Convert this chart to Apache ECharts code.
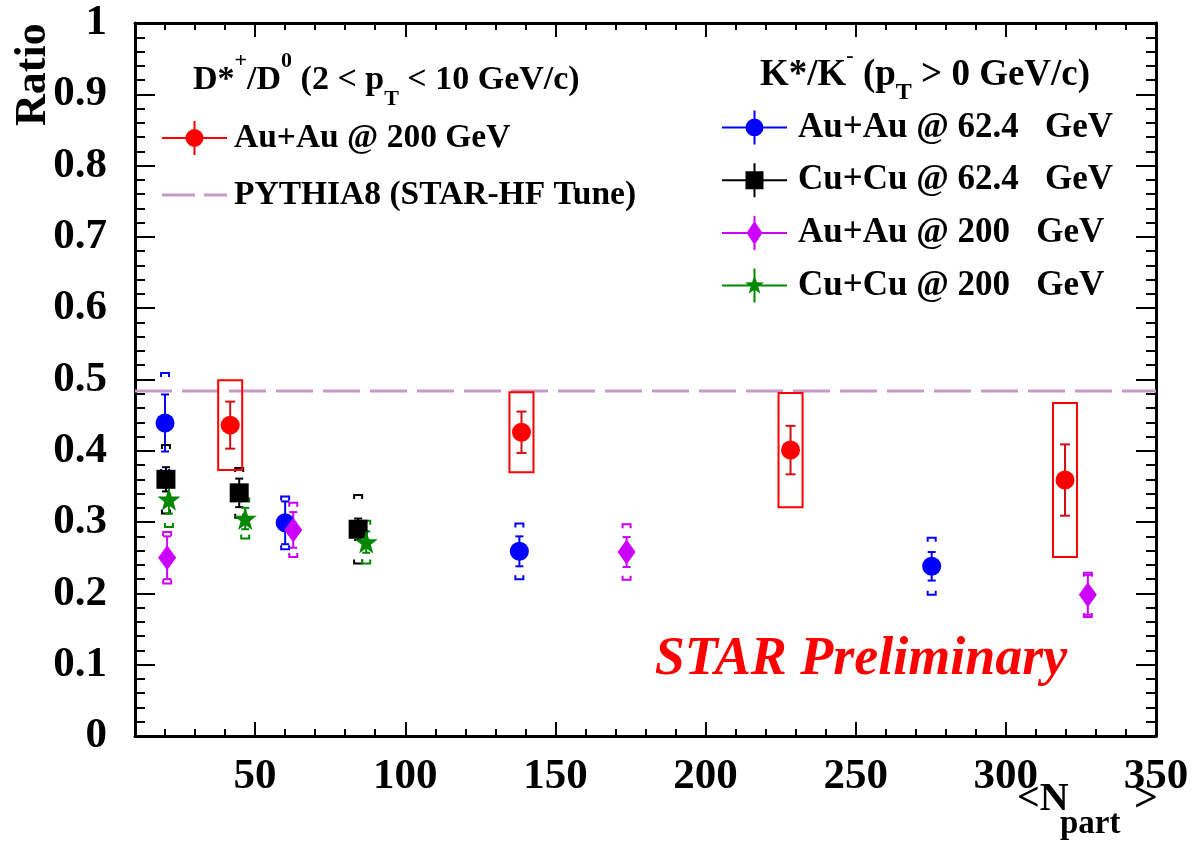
<!DOCTYPE html>
<html>
<head>
<meta charset="utf-8">
<script src="https://cdn.jsdelivr.net/npm/echarts@6/dist/echarts.min.js"></script>
<style>
  html, body { margin: 0; padding: 0; background: #fff; }
  #chart { width: 1192px; height: 842px; }
</style>
</head>
<body>
<div id="chart"></div>
<script>
// ---- data ----
var X_MIN = 10, X_MAX = 350;
var xMajorTicks = [50, 100, 150, 200, 250, 300, 350];

// D*+/D0, Au+Au 200 GeV
var dstarX    = [41.7, 138.7, 228.3, 319.7];
var dstarY    = [0.436, 0.426, 0.401, 0.359];
var dstarStat = [0.033, 0.029, 0.034, 0.050];
var dstarSys  = [0.063, 0.056, 0.080, 0.108];
var pythiaRatio = 0.484;

// K*/K-, Au+Au 62.4 GeV
var auau62X    = [20.0, 60.0, 138.0, 275.3];
var auau62Y    = [0.439, 0.299, 0.259, 0.238];
var auau62Stat = [0.040, 0.030, 0.021, 0.020];
var auau62Sys  = [0.070, 0.037, 0.039, 0.040];

// K*/K-, Cu+Cu 62.4 GeV
var cucu62X    = [20.3, 44.7, 84.3];
var cucu62Y    = [0.360, 0.341, 0.290];
var cucu62Stat = [0.017, 0.020, 0.015];
var cucu62Sys  = [0.048, 0.035, 0.048];

// K*/K-, Au+Au 200 GeV
var auau200X    = [20.7, 62.7, 173.7, 327.3];
var auau200Y    = [0.250, 0.289, 0.258, 0.198];
var auau200Stat = [0.030, 0.025, 0.021, 0.028];
var auau200Sys  = [0.036, 0.038, 0.039, 0.031];

// K*/K-, Cu+Cu 200 GeV
var cucu200X    = [21.3, 46.7, 87.0];
var cucu200Y    = [0.332, 0.305, 0.272];
var cucu200Stat = [0.020, 0.015, 0.015];
var cucu200Sys  = [0.039, 0.028, 0.030];

// ---- helpers ----
var FONT = 'Liberation Serif';
var PYTHIA_COLOR = '#c799c9';

function pts(xs, ys) {
  return xs.map(function(x, i) { return [x, ys[i]]; });
}
function errPts(xs, ys, st, sy) {
  return xs.map(function(x, i) { return [x, ys[i], st[i], sy[i]]; });
}

// stat bar with caps + sys box (D*) or sys brackets (K*)
function errRender(color, boxColor) {
  return function(params, api) {
    var x = api.value(0), y = api.value(1), st = api.value(2), sy = api.value(3);
    var c = api.coord([x, y]);
    var top = api.coord([x, y + st])[1], bot = api.coord([x, y - st])[1];
    var sTop = api.coord([x, y + sy])[1], sBot = api.coord([x, y - sy])[1];
    var cap = boxColor ? 5 : 4;
    var ls = { stroke: color, lineWidth: 2, fill: null };
    var kids = [
      { type: 'line', shape: { x1: c[0], y1: top, x2: c[0], y2: bot }, style: ls },
      { type: 'line', shape: { x1: c[0] - cap, y1: top, x2: c[0] + cap, y2: top }, style: ls },
      { type: 'line', shape: { x1: c[0] - cap, y1: bot, x2: c[0] + cap, y2: bot }, style: ls }
    ];
    if (boxColor) {
      var l = api.coord([x - 4, y])[0], r = api.coord([x + 4, y])[0];
      kids.push({ type: 'rect', shape: { x: l, y: sTop, width: r - l, height: sBot - sTop },
        style: { stroke: boxColor, lineWidth: 2, fill: null } });
    } else {
      var w = 4, h = 4;
      kids.push({ type: 'polyline', shape: { points: [[c[0] - w, sTop + h], [c[0] - w, sTop], [c[0] + w, sTop], [c[0] + w, sTop + h]] }, style: ls });
      kids.push({ type: 'polyline', shape: { points: [[c[0] - w, sBot - h], [c[0] - w, sBot], [c[0] + w, sBot], [c[0] + w, sBot - h]] }, style: ls });
    }
    return { type: 'group', children: kids };
  };
}

function errSeries(name, data, color, boxColor) {
  return {
    name: name, type: 'custom', data: data, z: 2,
    renderItem: errRender(color, boxColor), silent: true
  };
}

// legend icons (65 x 34 box): horizontal + vertical bar and a marker
var BARS = 'M0,16h65v2h-65z M31.5,0h2v34h-2z ';
var ICON_CIRCLE  = 'path://' + BARS + 'M23.5,17a9,9 0 1,1 18,0a9,9 0 1,1 -18,0z';
var ICON_SQUARE  = 'path://' + BARS + 'M23.5,8h18v18h-18z';
var ICON_DIAMOND = 'path://' + BARS + 'M32.5,5l8,12l-8,12l-8,-12z';
var ICON_STAR    = 'path://' + BARS + 'M32.5,6L34.85,13.76L42.01,13.91L36.3,18.24L38.38,25.09L32.5,21L26.62,25.09L28.7,18.24L22.99,13.91L30.15,13.76Z';
var ICON_DASH    = 'path://M0,15.5h33v3h-33z M42,15.5h23v3h-23z';
var STAR_SYMBOL  = 'path://M0,-10L2.35,-3.24L9.51,-3.09L3.8,1.24L5.88,8.09L0,4L-5.88,8.09L-3.8,1.24L-9.51,-3.09L-2.35,-3.24Z';

function markSeries(name, data, symbol, size, color) {
  return {
    name: name, type: 'scatter', data: data, z: 5,
    symbol: symbol, symbolSize: size,
    itemStyle: { color: color, opacity: 1 }
  };
}

function xAxisPart(pos, major) {
  return {
    type: 'value', min: X_MIN, max: X_MAX, position: pos,
    interval: major ? undefined : 10,
    axisLine: { show: !major, onZero: false, lineStyle: { color: '#000', width: 3 } },
    axisTick: major
      ? { show: true, inside: true, length: 14, customValues: xMajorTicks, lineStyle: { color: '#000', width: 2 } }
      : { show: true, inside: true, length: 7, lineStyle: { color: '#000', width: 2 } },
    axisLabel: (major && pos === 'bottom')
      ? { show: true, customValues: xMajorTicks, color: '#000', fontFamily: FONT, fontWeight: 'bold', fontSize: 43, margin: 19 }
      : { show: false },
    splitLine: { show: false }
  };
}

function yAxisPart(pos) {
  return {
    type: 'value', min: 0, max: 1, interval: 0.1, position: pos,
    axisLine: { show: true, onZero: false, lineStyle: { color: '#000', width: 3 } },
    axisTick: { show: true, inside: true, length: 20, lineStyle: { color: '#000', width: 2 } },
    minorTick: { show: true, splitNumber: 5, length: 10, lineStyle: { color: '#000', width: 2 } },
    axisLabel: pos === 'left'
      ? { show: true, color: '#000', fontFamily: FONT, fontWeight: 'bold', fontSize: 43, margin: 28 }
      : { show: false },
    splitLine: { show: false },
    minorSplitLine: { show: false }
  };
}

// ROOT-style wide gap before "GeV" in the K* legend
function wideGap(name) { return name.replace('  ', '\u2002 '); }

var chart = echarts.init(document.getElementById('chart'));

chart.setOption({
  backgroundColor: '#fff',
  animation: false,
  grid: { left: 135, right: 36, top: 23, bottom: 106 },
  xAxis: [xAxisPart('bottom', false), xAxisPart('bottom', true), xAxisPart('top', false), xAxisPart('top', true)],
  yAxis: [yAxisPart('left'), yAxisPart('right')],
  legend: [
    {
      orient: 'vertical', left: 157, top: 116, itemWidth: 65, itemHeight: 34, itemGap: 23,
      selectedMode: false,
      textStyle: { fontFamily: FONT, fontWeight: 'bold', fontSize: 33.5, color: '#000', lineHeight: 34, padding: [0, 0, 0, 2] },
      data: [
        { name: 'Au+Au @ 200 GeV', icon: ICON_CIRCLE },
        { name: 'PYTHIA8 (STAR-HF Tune)', icon: ICON_DASH, itemStyle: { color: PYTHIA_COLOR } }
      ]
    },
    {
      orient: 'vertical', left: 717, top: 105, itemWidth: 65, itemHeight: 34, itemGap: 17.7,
      selectedMode: false,
      formatter: wideGap,
      textStyle: { fontFamily: FONT, fontWeight: 'bold', fontSize: 35, color: '#000', lineHeight: 34, padding: [0, 0, 0, 6] },
      data: [
        { name: 'Au+Au @ 62.4  GeV', icon: ICON_CIRCLE },
        { name: 'Cu+Cu @ 62.4  GeV', icon: ICON_SQUARE },
        { name: 'Au+Au @ 200  GeV', icon: ICON_DIAMOND },
        { name: 'Cu+Cu @ 200  GeV', icon: ICON_STAR }
      ]
    }
  ],
  graphic: [
    {
      type: 'text', x: 34, y: 126, rotation: Math.PI / 2,
      style: { text: 'Ratio', fill: '#000', font: 'bold 44px "Liberation Serif"', textAlign: 'left', textVerticalAlign: 'middle' }
    },
    {
      type: 'text', x: 1017, y: 800,
      style: { text: '<N', fill: '#000', font: 'bold 40px "Liberation Serif"', textAlign: 'left', textVerticalAlign: 'middle' }
    },
    {
      type: 'text', x: 1060, y: 824,
      style: { text: 'part', fill: '#000', font: 'bold 33px "Liberation Serif"', textAlign: 'left', textVerticalAlign: 'middle' }
    },
    {
      type: 'text', x: 1158, y: 800,
      style: { text: '>', fill: '#000', font: 'bold 42px "Liberation Serif"', textAlign: 'right', textVerticalAlign: 'middle' }
    },
    {
      type: 'text', x: 193, y: 80,
      style: {
        text: '{n|D*}{sup|+}{n|/D}{sup|0}{n| (2 < p}{sub|T}{n| < 10 GeV/c)}',
        textAlign: 'left', textVerticalAlign: 'middle', fill: '#000',
        rich: {
          n: { fontFamily: FONT, fontWeight: 'bold', fontSize: 34, lineHeight: 60 },
          sup: { fontFamily: FONT, fontWeight: 'bold', fontSize: 22, lineHeight: 50, verticalAlign: 'top' },
          sub: { fontFamily: FONT, fontWeight: 'bold', fontSize: 22, lineHeight: 12, verticalAlign: 'bottom' }
        }
      }
    },
    {
      type: 'text', x: 760, y: 75,
      style: {
        text: '{n|K*/K}{sup|-}{n| (p}{sub|T}{n| > 0 GeV/c)}',
        textAlign: 'left', textVerticalAlign: 'middle', fill: '#000',
        rich: {
          n: { fontFamily: FONT, fontWeight: 'bold', fontSize: 37, lineHeight: 60 },
          sup: { fontFamily: FONT, fontWeight: 'bold', fontSize: 22, lineHeight: 40, verticalAlign: 'top' },
          sub: { fontFamily: FONT, fontWeight: 'bold', fontSize: 24, lineHeight: 12, verticalAlign: 'bottom' }
        }
      }
    },
    {
      type: 'text', x: 861, y: 660,
      style: { text: 'STAR Preliminary', fill: '#ff0000', font: 'italic bold 54px "Liberation Serif"', textAlign: 'center', textVerticalAlign: 'middle' }
    }
  ],
  series: [
    {
      name: 'PYTHIA8 (STAR-HF Tune)', type: 'line', symbol: 'none', z: 1,
      data: [[X_MIN, pythiaRatio], [X_MAX, pythiaRatio]],
      itemStyle: { color: PYTHIA_COLOR },
      lineStyle: { color: PYTHIA_COLOR, width: 3, type: [37, 10] }
    },
    errSeries('err-auau62', errPts(auau62X, auau62Y, auau62Stat, auau62Sys), '#0000ff'),
    errSeries('err-cucu62', errPts(cucu62X, cucu62Y, cucu62Stat, cucu62Sys), '#000000'),
    errSeries('err-auau200', errPts(auau200X, auau200Y, auau200Stat, auau200Sys), '#cc00ff'),
    errSeries('err-cucu200', errPts(cucu200X, cucu200Y, cucu200Stat, cucu200Sys), '#008800'),
    errSeries('err-dstar', errPts(dstarX, dstarY, dstarStat, dstarSys), '#d01010', '#ff0000'),
    markSeries('Au+Au @ 62.4  GeV', pts(auau62X, auau62Y), 'circle', 19, '#0000ff'),
    markSeries('Cu+Cu @ 62.4  GeV', pts(cucu62X, cucu62Y), 'rect', 19, '#000000'),
    markSeries('Au+Au @ 200  GeV', pts(auau200X, auau200Y), 'diamond', [18, 25], '#cc00ff'),
    markSeries('Cu+Cu @ 200  GeV', pts(cucu200X, cucu200Y), STAR_SYMBOL, 23, '#008800'),
    markSeries('Au+Au @ 200 GeV', pts(dstarX, dstarY), 'circle', 19, '#ff0000')
  ]
});
</script>
</body>
</html>
